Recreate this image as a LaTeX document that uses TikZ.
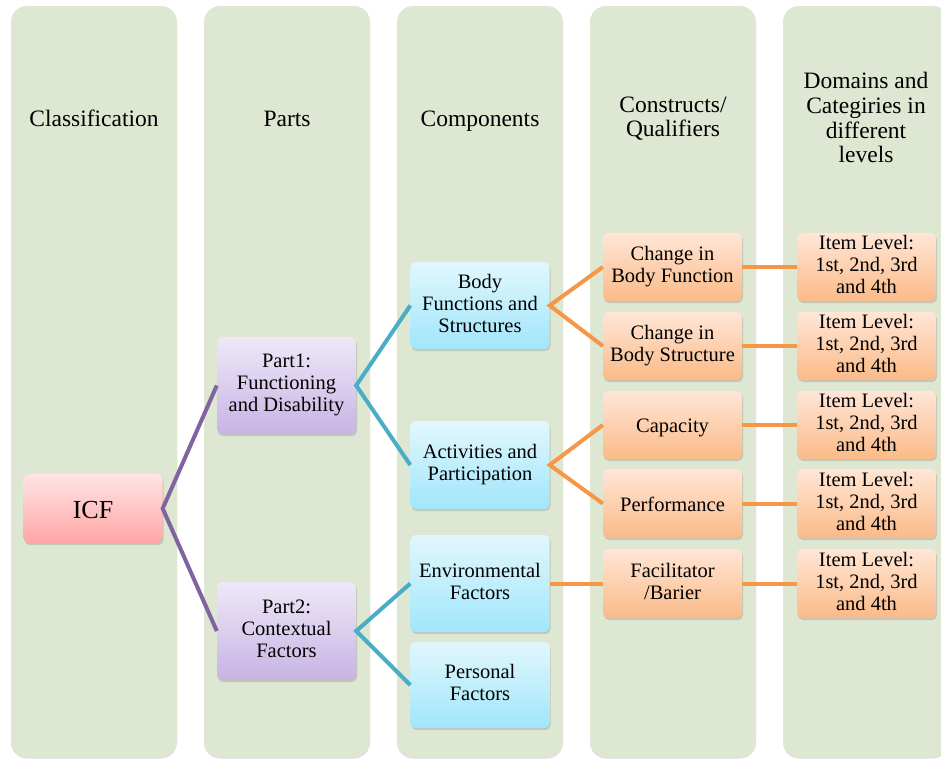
\documentclass[tikz,border=0pt]{standalone}
\usepackage{fontspec}
\setmainfont{Liberation Serif}
\usetikzlibrary{shadows}
\definecolor{colfill}{RGB}{222,231,210}
\definecolor{pinkT}{RGB}{255,228,228}
\definecolor{pinkB}{RGB}{255,166,166}
\definecolor{lavT}{RGB}{238,232,248}
\definecolor{lavB}{RGB}{199,180,228}
\definecolor{bluT}{RGB}{226,247,253}
\definecolor{bluB}{RGB}{160,230,251}
\definecolor{oraT}{RGB}{255,230,214}
\definecolor{oraB}{RGB}{251,186,136}
\definecolor{purpL}{RGB}{128,100,162}
\definecolor{tealL}{RGB}{75,172,198}
\definecolor{oraL}{RGB}{247,150,70}
\newcommand{\topstrut}{\rule{0pt}{1.0em}}
\newcommand{\botstrut}{\rule[-0.24em]{0pt}{0.24em}}
\tikzset{
  centred/.style={execute at begin node=\topstrut, execute at end node=\botstrut},
  column/.style={rectangle, rounded corners=16pt, fill=colfill, minimum width=166pt, minimum height=751pt, inner sep=0pt,
    drop shadow={opacity=0.25, shadow xshift=0pt, shadow yshift=-1.5pt}},
  header/.style={align=center, font=\fontsize{23.5}{24.7}\selectfont, inner sep=0pt, centred},
  box/.style={rectangle, rounded corners=5pt, minimum width=139pt, inner sep=0pt, align=center,
    font=\fontsize{20.5}{22}\selectfont, centred,
    drop shadow={opacity=0.3, shadow xshift=1pt, shadow yshift=-2pt}},
  icfbox/.style={box, top color=pinkT, bottom color=pinkB, font=\fontsize{26}{28}\selectfont},
  partbox/.style={box, top color=lavT, bottom color=lavB},
  compbox/.style={box, top color=bluT, bottom color=bluB},
  orabox/.style={box, top color=oraT, bottom color=oraB},
  purpline/.style={draw=purpL, line width=4pt},
  tealline/.style={draw=tealL, line width=4pt},
  oraline/.style={draw=oraL, line width=4pt}
}
\begin{document}
\begin{tikzpicture}[x=1pt,y=-1pt]
\useasboundingbox (0,0) rectangle (941,758);
% columns
\node[column] (c1) at (94,381.5) {};
\node[column] (c2) at (287,381.5) {};
\node[column] (c3) at (480,381.5) {};
\node[column] (c4) at (673,381.5) {};
\node[column] (c5) at (866,381.5) {};
% headers
\node[header] (h1) at (94,118) {Classification};
\node[header] (h2) at (287,118) {Parts};
\node[header] (h3) at (480,118) {Components};
\node[header] (h4) at (673,119.5) {Constructs/\\Qualifiers};
\node[header] (h5) at (866,120.5) {Domains and\\Categiries in\\different\\levels};
% boxes
\node[icfbox, minimum height=69pt] (icf) at (93,508.5) {ICF};
\node[partbox, minimum height=97pt] (p1) at (286.5,385.5) {Part1:\\Functioning\\and Disability};
\node[partbox, minimum height=98pt] (p2) at (286.5,631) {Part2:\\Contextual\\Factors};
\node[compbox, minimum height=87pt] (bf) at (480,305.5) {Body\\Functions and\\Structures};
\node[compbox, minimum height=88pt] (ap) at (480,465) {Activities and\\Participation};
\node[compbox, minimum height=97pt] (ef) at (480,583.5) {Environmental\\Factors};
\node[compbox, minimum height=86pt] (pf) at (480,685) {Personal\\Factors};
\node[orabox, minimum height=68pt] (q1) at (672.5,267) {Change in\\Body Function};
\node[orabox, minimum height=68pt] (q2) at (672.5,346) {Change in\\Body Structure};
\node[orabox, minimum height=68pt] (q3) at (672.5,425) {Capacity};
\node[orabox, minimum height=69pt] (q4) at (672.5,503.5) {Performance};
\node[orabox, minimum height=69pt] (q5) at (672.5,583.5) {Facilitator\\/Barier};
\node[orabox, minimum height=68pt] (d1) at (866.5,267) {Item Level:\\1st, 2nd, 3rd\\and 4th};
\node[orabox, minimum height=68pt] (d2) at (866.5,346) {Item Level:\\1st, 2nd, 3rd\\and 4th};
\node[orabox, minimum height=68pt] (d3) at (866.5,425) {Item Level:\\1st, 2nd, 3rd\\and 4th};
\node[orabox, minimum height=69pt] (d4) at (866.5,503.5) {Item Level:\\1st, 2nd, 3rd\\and 4th};
\node[orabox, minimum height=69pt] (d5) at (866.5,583.5) {Item Level:\\1st, 2nd, 3rd\\and 4th};
% connectors
\draw[purpline] (p1.west) -- (icf.east) -- (p2.west);
\draw[tealline] (bf.west) -- (p1.east) -- (ap.west);
\draw[tealline] (ef.west) -- (p2.east) -- (pf.west);
\draw[oraline] (q1.west) -- (bf.east) -- (q2.west);
\draw[oraline] (q3.west) -- (ap.east) -- (q4.west);
\draw[oraline] (ef.east) -- (q5.west);
\draw[oraline] (q1.east) -- (d1.west);
\draw[oraline] (q2.east) -- (d2.west);
\draw[oraline] (q3.east) -- (d3.west);
\draw[oraline] (q4.east) -- (d4.west);
\draw[oraline] (q5.east) -- (d5.west);
\end{tikzpicture}
\end{document}
